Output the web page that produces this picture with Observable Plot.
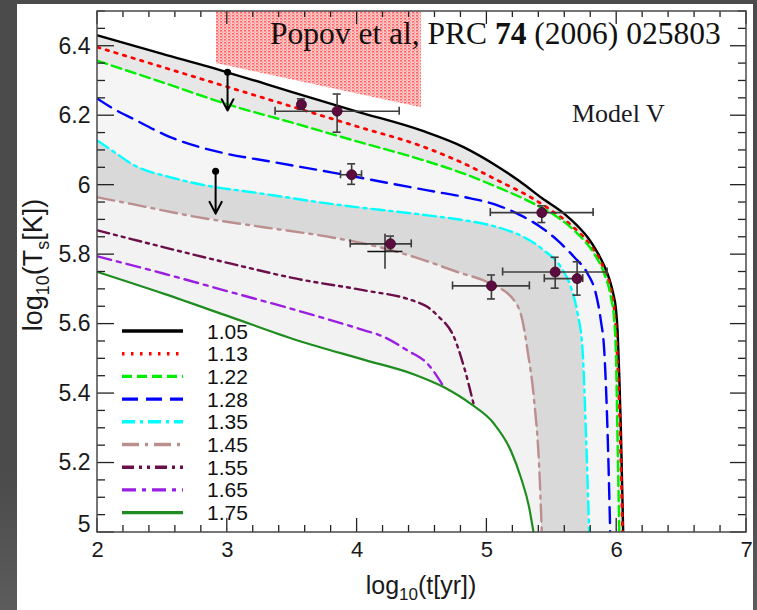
<!DOCTYPE html>
<html><head><meta charset="utf-8">
<script src="https://cdn.jsdelivr.net/npm/d3@7"></script>
<script src="https://cdn.jsdelivr.net/npm/@observablehq/plot@0.6"></script>
<style>
html,body{margin:0;padding:0;}
body{width:757px;height:610px;background:linear-gradient(#4b4b4b 0%,#4b4b4b 78%,#5c5c5c 100%);position:relative;overflow:hidden;}
#panel{position:absolute;left:17px;top:4px;width:736px;height:606px;background:#fff;}
#chart{position:absolute;left:0;top:0;}
</style></head>
<body><div id="panel"></div><div id="chart"></div>
<script>
// ---- data: cooling curves [log10 t, log10 Ts] ----
const masses = ["1.05","1.13","1.22","1.28","1.35","1.45","1.55","1.65","1.75"];
const curve105 = [[2,6.431],[2.5,6.378],[3,6.325],[3.5,6.268],[4,6.212],[4.5,6.157],[4.824,6.109],[5.082,6.054],[5.25,6.012],[5.423,5.963],[5.595,5.918],[5.7,5.882],[5.776,5.85],[5.85,5.807],[5.904,5.768],[5.945,5.728],[5.975,5.685],[5.994,5.645],[6.007,5.58],[6.02,5.45],[6.032,5.3],[6.05,5.0]];
const curve113 = [[2,6.397],[2.5,6.34],[3,6.283],[3.5,6.226],[4,6.169],[4.5,6.112],[4.824,6.062],[5.082,6.014],[5.338,5.965],[5.493,5.928],[5.647,5.885],[5.801,5.825],[5.904,5.757],[5.955,5.7],[5.982,5.64],[5.998,5.56],[6.013,5.43],[6.027,5.28],[6.045,5.0]];
const curve122 = [[2,6.358],[2.5,6.296],[3,6.233],[3.5,6.18],[4,6.126],[4.5,6.073],[4.824,6.033],[5.082,5.994],[5.338,5.951],[5.544,5.908],[5.699,5.86],[5.827,5.802],[5.904,5.745],[5.955,5.678],[5.981,5.61],[5.995,5.5],[6.005,5.3],[6.02,5.0]];
const curve128 = [[2,6.249],[2.1,6.225],[2.28,6.19],[2.55,6.14],[3,6.09],[3.285,6.071],[3.8,6.037],[4.544,5.985],[4.824,5.966],[5.082,5.942],[5.261,5.913],[5.416,5.879],[5.544,5.841],[5.672,5.793],[5.776,5.745],[5.84,5.687],[5.878,5.61],[5.904,5.524],[5.93,5.285],[5.95,5.0]];
const curve135 = [[2,6.128],[2.13,6.095],[2.27,6.06],[2.59,6.02],[2.77,6.004],[3.28,5.975],[3.8,5.946],[4.544,5.913],[4.824,5.899],[5.082,5.879],[5.287,5.85],[5.441,5.812],[5.57,5.764],[5.647,5.706],[5.699,5.63],[5.737,5.524],[5.763,5.285],[5.788,5.0]];
const curve145 = [[2,5.965],[2.26,5.946],[2.77,5.908],[3.28,5.879],[3.8,5.85],[4.18,5.821],[4.45,5.792],[4.773,5.75],[5.03,5.716],[5.21,5.668],[5.274,5.61],[5.313,5.524],[5.364,5.38],[5.403,5.188],[5.423,5.0]];
const curve155 = [[2,5.87],[2.514,5.821],[3.028,5.774],[3.542,5.73],[4.056,5.697],[4.426,5.668],[4.544,5.649],[4.618,5.625],[4.747,5.562],[4.824,5.476],[4.9,5.366]];
const curve165 = [[2,5.795],[2.514,5.745],[3.028,5.692],[3.542,5.639],[4.056,5.582],[4.182,5.567],[4.388,5.524],[4.542,5.486],[4.67,5.418]];
const curve175 = [[2,5.75],[2.514,5.687],[3.028,5.62],[3.542,5.553],[4.056,5.497],[4.44,5.455],[4.67,5.418],[4.876,5.37],[5.055,5.313],[5.184,5.236],[5.261,5.159],[5.325,5.073],[5.359,5.0]];
const curves = [curve105,curve113,curve122,curve128,curve135,curve145,curve155,curve165,curve175];

// ---- observations ----
const obsT   = [3.571, 3.846, 3.958, 4.257, 5.035, 5.423, 5.526, 5.695];
const obsTs  = [6.232, 6.213, 6.030, 5.831, 5.710, 5.921, 5.750, 5.731];
const obsTLo = [3.55, 3.372, 3.876, 3.951, 4.739, 5.03, 5.125, 5.446];
const obsTHi = [3.59, 4.328, 4.038, 4.421, 5.331, 5.822, 5.93, 5.742];
const obsYLo = [6.217, 6.151, 6.001, 5.809, 5.671, 5.891, 5.702, 5.682];
const obsYHi = [6.247, 6.261, 6.060, 5.852, 5.740, 5.939, 5.791, 5.778];
// second estimate (cross without marker)
const crossT = [4.215], crossTs = [5.809], crossTLo = [4.079], crossTHi = [4.349], crossYLo = [5.759], crossYHi = [5.86];
// upper limits
const ulT = [3.002, 2.91], ulFrom = [6.325, 6.04], ulTo = [6.215, 5.918];
// red hatched band
const redT = [2.917, 4.495], redLo = [6.35, 6.223], redHi = [6.5, 6.5];

// ---- ticks ----
const xMajor = [2,3,4,5,6,7];
const yMajor = [5,5.2,5.4,5.6,5.8,6,6.2,6.4];
const yLabels = ["5","5.2","5.4","5.6","5.8","6","6.2","6.4"];
const xMinor = d3.range(2.2, 7, 0.2).filter(v => Math.abs(v - Math.round(v)) > 1e-6);
const yMinor = d3.range(5.05, 6.5, 0.05).filter(v => Math.abs(v*5 - Math.round(v*5)) > 1e-6);

// ---- styles ----
const lineColors = ["#000000","#ff0000","#00ee00","#0000ff","#00ffff","#bc8f8f","#6b0f4a","#9a1fe0","#1e8c1e"];
const lineDashes = [null,"2.5,6.5","10,5","16,8","13,5,3,5","17,6,3,6","12,5,3,5,3,5","14,6,4,6",null];
const lineWidths = [2.4,2.8,2.4,2.4,2.4,2.4,2.4,2.4,2.2];
const bandFill = {0:"#e7e7e7", 2:"#f5f5f5", 4:"#d9d9d9", 5:"#f2f2f2", 8:"#ffffff"};

const SANS = "'Liberation Sans', Arial, Helvetica, sans-serif";
const SERIF = "'Liberation Serif', 'Times New Roman', serif";

const marks = [];
marks.push(Plot.areaY(redT, {x: d => d, y1: (d,i) => redLo[i], y2: (d,i) => redHi[i], fill: "url(#redhatch)"}));
[0,2,4,5,8].forEach(k => {
  marks.push(Plot.areaY(curves[k], {x: d => d[0], y1: 5, y2: d => d[1], fill: bandFill[k], curve: "monotone-x"}));
});
curves.forEach((c, k) => {
  marks.push(Plot.line(c, {x: d => d[0], y: d => d[1], stroke: lineColors[k], strokeWidth: lineWidths[k],
    strokeDasharray: lineDashes[k] || undefined, curve: "monotone-x", clip: true}));
});
const ebColor = "#3c3c3c";
marks.push(Plot.link(obsT, {x1: (d,i) => obsTLo[i], x2: (d,i) => obsTHi[i], y1: (d,i) => obsTs[i], y2: (d,i) => obsTs[i], stroke: ebColor, strokeWidth: 1.6}));
marks.push(Plot.link(obsT, {x1: d => d, x2: d => d, y1: (d,i) => obsYLo[i], y2: (d,i) => obsYHi[i], stroke: ebColor, strokeWidth: 1.6}));
marks.push(Plot.link(crossT, {x1: (d,i) => crossTLo[i], x2: (d,i) => crossTHi[i], y1: (d,i) => crossTs[i], y2: (d,i) => crossTs[i], stroke: "#111", strokeWidth: 1.3}));
marks.push(Plot.link(crossT, {x1: d => d, x2: d => d, y1: (d,i) => crossYLo[i], y2: (d,i) => crossYHi[i], stroke: "#111", strokeWidth: 1.3}));
marks.push(Plot.dot(obsT, {x: d => d, y: (d,i) => obsTs[i], r: 5, fill: "#5b0b3d", stroke: "#3a0627", strokeWidth: 0.8}));
marks.push(Plot.arrow(ulT, {x1: d => d, x2: d => d, y1: (d,i) => ulFrom[i], y2: (d,i) => ulTo[i], stroke: "#000", strokeWidth: 2, headLength: 10, headAngle: 55}));
marks.push(Plot.dot(ulT, {x: d => d, y: (d,i) => ulFrom[i], r: 3.5, fill: "#000"}));
marks.push(Plot.text(xMajor, {x: d => d, frameAnchor: "bottom", dy: 17, text: d => String(d), fontSize: 22, fontFamily: SANS, fill: "#1a1a1a", lineAnchor: "middle"}));
marks.push(Plot.text(yMajor.slice(1), {y: d => d, frameAnchor: "left", dx: -7, textAnchor: "end", text: (d,i) => yLabels[i+1], fontSize: 23, fontFamily: SANS, fill: "#1a1a1a", lineAnchor: "middle"}));
marks.push(Plot.text(yMajor.slice(0,1), {y: d => d, frameAnchor: "left", dx: -7, dy: -8, textAnchor: "end", text: (d,i) => yLabels[i], fontSize: 23, fontFamily: SANS, fill: "#1a1a1a", lineAnchor: "middle"}));

const chart = Plot.plot({
  width: 757, height: 610,
  marginLeft: 97, marginRight: 11, marginTop: 11, marginBottom: 78,
  x: {domain: [2, 7], axis: null},
  y: {domain: [5, 6.5], axis: null},
  style: {background: "transparent", overflow: "visible"},
  marks
});
document.getElementById("chart").appendChild(chart);

const svg = d3.select(chart);
const sx = chart.scale("x"), sy = chart.scale("y");
const X = v => sx.apply(v), Y = v => sy.apply(v);

// pattern for red band
const defs = svg.insert("defs", ":first-child");
const pat = defs.append("pattern").attr("id", "redhatch").attr("patternUnits", "userSpaceOnUse").attr("width", 4).attr("height", 3);
pat.append("rect").attr("width", 4).attr("height", 3).attr("fill", "#ffc6c6");
pat.append("rect").attr("width", 2).attr("height", 1.5).attr("fill", "#ff6262");
pat.append("rect").attr("x", 2).attr("y", 1.5).attr("width", 1).attr("height", 1.5).attr("fill", "#ff8e8e");

// error-bar caps (drawn at scaled data positions)
const caps = svg.append("g").attr("stroke", ebColor).attr("stroke-width", 1.6);
obsT.forEach((t, i) => {
  const cy = Y(obsTs[i]), cx = X(t);
  [obsTLo[i], obsTHi[i]].forEach(v => caps.append("line").attr("x1", X(v)).attr("x2", X(v)).attr("y1", cy - 4).attr("y2", cy + 4));
  [obsYLo[i], obsYHi[i]].forEach(v => caps.append("line").attr("x1", cx - 4).attr("x2", cx + 4).attr("y1", Y(v)).attr("y2", Y(v)));
});
svg.selectAll("g[aria-label='dot']").raise();

// inward ticks on all four sides
const tk = svg.append("g").attr("stroke", "#222").attr("stroke-width", 1.3);
const xb = Y(5), xt = Y(6.5), yl0 = X(2), yr0 = X(7);
xMajor.forEach(v => { tk.append("line").attr("x1", X(v)).attr("x2", X(v)).attr("y1", xb).attr("y2", xb - 14);
                      tk.append("line").attr("x1", X(v)).attr("x2", X(v)).attr("y1", xt).attr("y2", xt + 13); });
xMinor.forEach(v => { tk.append("line").attr("x1", X(v)).attr("x2", X(v)).attr("y1", xb).attr("y2", xb - 7);
                      tk.append("line").attr("x1", X(v)).attr("x2", X(v)).attr("y1", xt).attr("y2", xt + 6); });
yMajor.forEach(v => { tk.append("line").attr("y1", Y(v)).attr("y2", Y(v)).attr("x1", yl0).attr("x2", yl0 + 17);
                      tk.append("line").attr("y1", Y(v)).attr("y2", Y(v)).attr("x1", yr0).attr("x2", yr0 - 16); });
yMinor.forEach(v => { tk.append("line").attr("y1", Y(v)).attr("y2", Y(v)).attr("x1", yl0).attr("x2", yl0 + 8);
                      tk.append("line").attr("y1", Y(v)).attr("y2", Y(v)).attr("x1", yr0).attr("x2", yr0 - 8); });
svg.append("rect").attr("x", yl0).attr("y", xt).attr("width", yr0 - yl0).attr("height", xb - xt)
  .attr("fill", "none").attr("stroke", "#4a4a4a").attr("stroke-width", 1.5);

// title
const title = svg.append("text").attr("x", 270).attr("y", 44).attr("text-anchor", "start").attr("font-family", SERIF).attr("font-size", 31.5).attr("fill", "#111");
title.append("tspan").text("Popov et al, PRC ");
title.append("tspan").attr("font-weight", "bold").text("74");
title.append("tspan").text(" (2006) 025803");
svg.append("text").attr("x", 572).attr("y", 122).attr("text-anchor", "start").attr("font-family", SERIF).attr("font-size", 26).attr("fill", "#1a1a24").text("Model V");

// axis titles
const xl = svg.append("text").attr("x", 421).attr("y", 594).attr("text-anchor", "middle").attr("font-family", SANS).attr("font-size", 25).attr("fill", "#1a1a1a");
xl.append("tspan").text("log");
xl.append("tspan").attr("font-size", 17).attr("dy", 6).text("10");
xl.append("tspan").attr("dy", -6).text("(t[yr])");
const yl = svg.append("text").attr("transform", "translate(42,265) rotate(-90)").attr("text-anchor", "middle").attr("font-family", SANS).attr("font-size", 27).attr("fill", "#1a1a1a");
yl.append("tspan").text("log");
yl.append("tspan").attr("font-size", 18).attr("dy", 7).text("10");
yl.append("tspan").attr("dy", -7).text("(T");
yl.append("tspan").attr("font-size", 18).attr("dy", 7).text("s");
yl.append("tspan").attr("dy", -7).text("[K])");

// legend
const leg = svg.append("g");
masses.forEach((m, i) => {
  const y = 331 + i * 22.7;
  leg.append("line").attr("x1", 122).attr("x2", 183).attr("y1", y).attr("y2", y)
    .attr("stroke", lineColors[i]).attr("stroke-width", 3.4).attr("stroke-dasharray", lineDashes[i]);
  leg.append("text").attr("x", 207).attr("y", y + 7.5).attr("text-anchor", "start").attr("font-family", SANS).attr("font-size", 21).attr("fill", "#111").text(m);
});
</script></body></html>
